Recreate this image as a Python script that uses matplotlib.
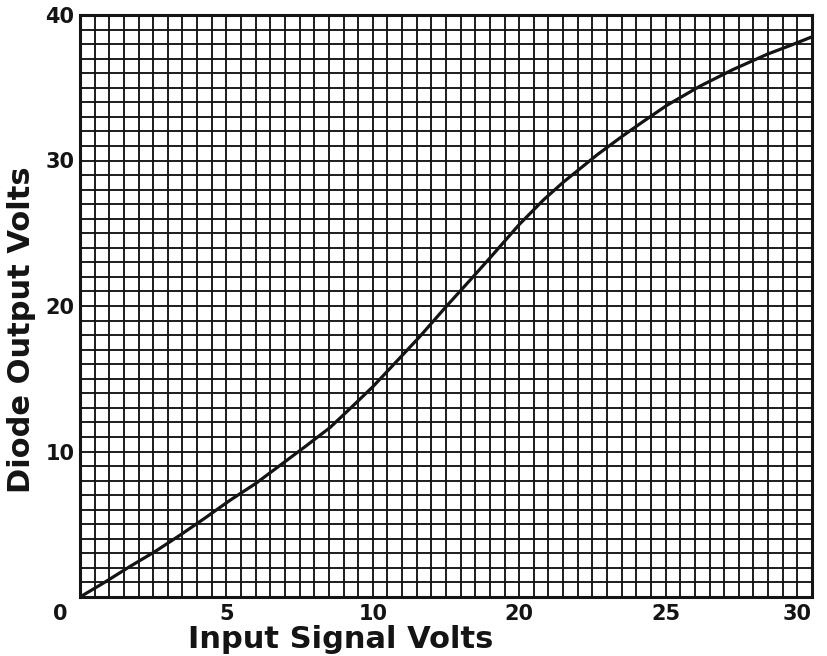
import numpy as np
import matplotlib
matplotlib.use('Agg')
import matplotlib.pyplot as plt
from matplotlib.transforms import ScaledTranslation

# ── Data ──────────────────────────────────────────────────────────────────────
input_volts = [0.0, 1.0, 2.05, 3.1, 4.1, 5.1, 6.15, 7.2, 8.2, 9.2, 10.25,
               11.1, 12.0, 12.7, 13.9, 15.0, 16.0, 16.8, 18.0, 19.0, 19.8,
               21.2, 22.25, 23.1, 24.06, 25.4, 26.76, 28.16, 29.1, 30.0]
output_volts = [0.0, 1.0, 2.1, 3.15, 4.25, 5.4, 6.65, 7.8, 9.05, 10.3, 11.65,
                13.0, 14.45, 15.7, 17.85, 19.95, 21.8, 23.3, 25.6, 27.3, 28.5,
                30.4, 31.7, 32.7, 33.8, 35.1, 36.25, 37.3, 37.9, 38.5]

x_tick_pos = [0, 6, 12, 18, 24, 30]
x_tick_labels = ['0', '5', '10', '20', '25', '30']
y_tick_pos = [10, 20, 30, 40]
y_tick_labels = ['10', '20', '30', '40']

X_MAX, Y_MAX = 30, 40
X_CELLS, Y_CELLS = 50, 40

INK = '#141414'

fig = plt.figure(figsize=(8.27, 6.56), dpi=100)
ax = fig.add_axes([80 / 827, 1 - 597 / 656, 732 / 827, 582 / 656])

# graph-paper grid
ax.set_xticks(np.linspace(0, X_MAX, X_CELLS + 1), minor=True)
ax.set_yticks(np.linspace(0, Y_MAX, Y_CELLS + 1), minor=True)
ax.grid(which='both', color=INK, linewidth=1.35)
ax.set_axisbelow(True)

ax.plot(input_volts, output_volts, color=INK, linewidth=2.3,
        solid_capstyle='round', solid_joinstyle='round')

ax.set_xlim(0, X_MAX)
ax.set_ylim(0, Y_MAX)

for side in ax.spines.values():
    side.set_color(INK)
    side.set_linewidth(2.2)

tick_font = dict(fontsize=15, fontweight='bold', color=INK)
ax.set_xticks(x_tick_pos)
ax.set_xticklabels(x_tick_labels, **tick_font)
ax.set_yticks(y_tick_pos)
ax.set_yticklabels(y_tick_labels, **tick_font)
ax.tick_params(which='both', length=0)
ax.tick_params(axis='x', pad=5)
ax.tick_params(axis='y', pad=4)

# the corner zero sits left of the frame, the last label tucks inside
xlabels = ax.get_xticklabels()
xlabels[0].set_ha('right')
xlabels[0].set_transform(xlabels[0].get_transform() +
                         ScaledTranslation(-0.13, 0, fig.dpi_scale_trans))
xlabels[-1].set_ha('right')

fig.text(341 / 827, 1 - 640 / 656, 'Input Signal Volts', ha='center', va='center',
         fontsize=22, fontweight='bold', color=INK)
fig.text(22 / 827, 1 - 330 / 656, 'Diode Output Volts', ha='center', va='center',
         rotation=90, fontsize=22, fontweight='bold', color=INK)

fig.savefig('out.png', dpi=100, facecolor='white')
